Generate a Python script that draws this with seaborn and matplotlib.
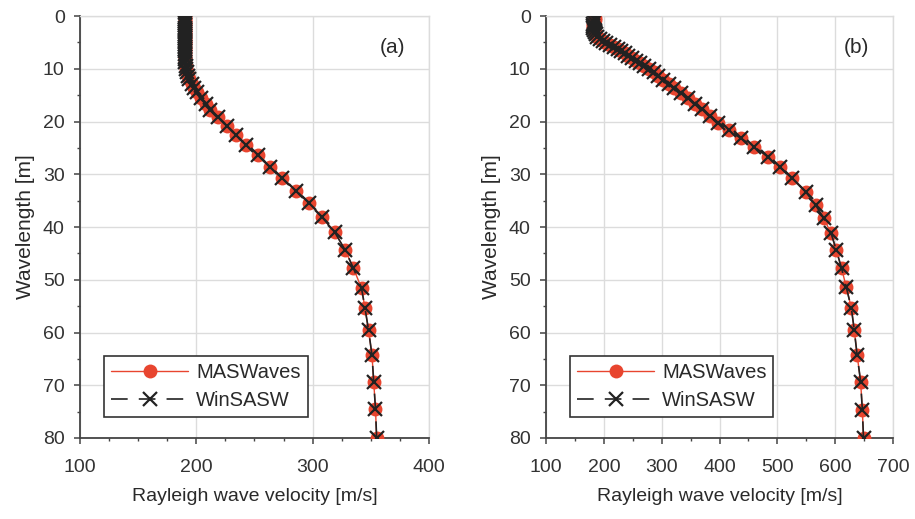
import matplotlib
matplotlib.use("Agg")
import matplotlib.pyplot as plt
import pandas as pd
import seaborn as sns
from matplotlib.ticker import MultipleLocator

# Fundamental-mode Rayleigh wave dispersion curves for two test profiles.
# Wavelength [m] and phase velocity [m/s]; MASWaves and WinSASW give the same curve.
wavelength_a = [80.0, 74.5, 69.4, 64.3, 59.5, 55.4, 51.6, 47.8, 44.4, 41.0,
                38.1, 35.4, 33.2, 30.8, 28.6, 26.4, 24.5, 22.6, 20.8, 19.2,
                17.8, 16.6, 15.5, 14.5, 13.6, 12.8, 12.0, 11.3, 10.6, 10.0,
                9.4, 8.8, 8.2, 7.7, 7.2, 6.7, 6.2, 5.8, 5.4, 5.0,
                4.6, 4.2, 3.8, 3.4, 3.0, 2.6, 2.2, 1.8, 1.4, 1.0, 0.6, 0.2]
velocity_a = [355, 354, 352.5, 351, 348, 345, 342, 335, 328, 319,
              308, 297, 286, 274, 263, 253, 243, 234, 226, 219,
              212, 208, 204, 201, 198, 196, 194, 193, 192, 191,
              190.8, 190.6, 190.5, 190.4, 190.3, 190.2, 190.2, 190.1, 190.1, 190,
              190, 190, 190, 190, 190, 190, 190, 190, 190, 190, 190, 190]

wavelength_b = [80.0, 74.7, 69.3, 64.3, 59.5, 55.4, 51.3, 47.8, 44.4, 41.2,
                38.3, 35.8, 33.3, 30.8, 28.6, 26.7, 24.8, 23.2, 21.6, 20.2,
                18.9, 17.7, 16.6, 15.6, 14.6, 13.7, 12.9, 12.1, 11.4, 10.7,
                10.1, 9.5, 9.0, 8.5, 8.0, 7.5, 7.1, 6.7, 6.3, 5.9,
                5.5, 5.1, 4.7, 4.3, 3.9, 3.5, 3.1, 2.7, 2.3, 1.9,
                1.5, 1.1, 0.7, 0.3]
velocity_b = [649, 647, 644, 638, 633, 628, 619, 611, 602, 593,
              580, 566, 549, 526, 504, 484, 460, 437, 416, 398,
              383, 369, 357, 345, 333, 322, 312, 302, 294, 286,
              278, 270, 263, 256, 249, 242, 236, 230, 225, 218,
              211, 204, 198, 193, 189, 186, 184, 183, 182, 182,
              182, 183, 184, 185]

x_ticks_a = [100, 200, 300, 400]
x_ticks_b = [100, 200, 300, 400, 500, 600, 700]
y_ticks = [0, 10, 20, 30, 40, 50, 60, 70, 80]
series_labels = ["MASWaves", "WinSASW"]
panel_labels = ["(a)", "(b)"]

sns.set_style("white")
plt.rcParams["font.family"] = ["Liberation Sans", "DejaVu Sans"]
plt.rcParams["lines.scale_dashes"] = False

RED = "#e8452f"
DARK = "#222222"
AXIS = "#444444"
GRID = "#dcdcdc"
TEXT = "#2a2a2a"

fig = plt.figure(figsize=(9.15, 5.19), dpi=100)
ax_a = fig.add_axes([80 / 915, 81 / 519, 349 / 915, 422 / 519])
ax_b = fig.add_axes([546 / 915, 81 / 519, 347 / 915, 422 / 519])

panels = [
    (ax_a, wavelength_a, velocity_a, x_ticks_a, 25, panel_labels[0]),
    (ax_b, wavelength_b, velocity_b, x_ticks_b, 50, panel_labels[1]),
]

for ax, lam, vel, xt, xminor, tag in panels:
    df = pd.DataFrame({"velocity": vel, "wavelength": lam})
    sns.lineplot(data=df, x="velocity", y="wavelength", ax=ax, sort=False,
                 estimator=None, color=RED, linewidth=1.0, marker="o",
                 markersize=10, markeredgewidth=0, markerfacecolor=RED,
                 label=series_labels[0], zorder=3)
    sns.lineplot(data=df, x="velocity", y="wavelength", ax=ax, sort=False,
                 estimator=None, color=DARK, linewidth=1.2,
                 linestyle=(0, (12, 8)), marker="x", markersize=9.5,
                 markeredgewidth=1.6, markeredgecolor=DARK,
                 label=series_labels[1], zorder=4)

    ax.set_xlim(xt[0], xt[-1])
    ax.set_ylim(y_ticks[-1], y_ticks[0])
    ax.set_xticks(xt)
    ax.set_yticks(y_ticks)
    ax.xaxis.set_minor_locator(MultipleLocator(xminor))
    ax.yaxis.set_minor_locator(MultipleLocator(5))

    ax.grid(True, which="major", color=GRID, linewidth=1.0, zorder=0)
    ax.set_axisbelow(True)
    for side in ("top", "right"):
        ax.spines[side].set_color(GRID)
        ax.spines[side].set_linewidth(1.0)
    for side in ("left", "bottom"):
        ax.spines[side].set_color(AXIS)
        ax.spines[side].set_linewidth(1.3)

    ax.tick_params(which="major", direction="out", length=4, width=1.1,
                   color=AXIS, labelsize=14, labelcolor="#333333", pad=7,
                   left=True, bottom=True)
    ax.tick_params(axis="x", which="major", pad=11)
    ax.tick_params(which="minor", direction="out", length=2.5, width=1.0,
                   color=AXIS, left=True, bottom=True)

    ax.set_xlabel("Rayleigh wave velocity [m/s]", fontsize=14,
                  color=TEXT, labelpad=9)
    ax.set_ylabel("Wavelength [m]", fontsize=15, color=TEXT, labelpad=6)

    ax.text(0.895, 0.925, tag, transform=ax.transAxes, fontsize=15,
            ha="center", va="center", color=TEXT)

    handles, labels = ax.get_legend_handles_labels()
    leg = ax.legend(handles, labels, loc="lower left",
                    bbox_to_anchor=(0.07, 0.05), borderaxespad=0,
                    fontsize=14.5, handlelength=3.8, handletextpad=0.4,
                    labelspacing=0.45, borderpad=0.35, fancybox=False,
                    framealpha=1, edgecolor="#333333")
    for t in leg.get_texts():
        t.set_color(TEXT)
    leg.get_frame().set_linewidth(1.2)

fig.savefig("out.png", dpi=100)
